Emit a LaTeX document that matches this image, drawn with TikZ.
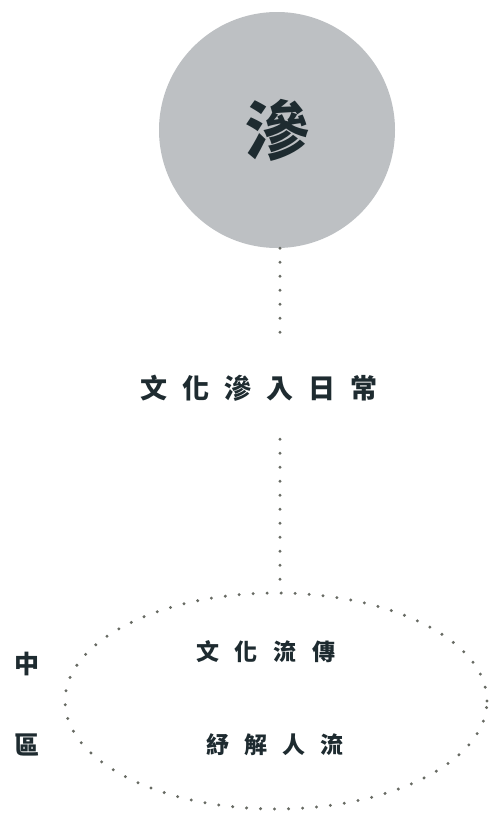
\documentclass[tikz,border=0pt]{standalone}
\usepackage{fontspec}
\usepackage{tikz}
\usetikzlibrary{shapes.geometric}
\newfontfamily\cjk{Noto Sans CJK TC}
\definecolor{ink}{HTML}{1E2B30}
\definecolor{disc}{HTML}{BDC0C3}
\definecolor{dotgray}{HTML}{676A63}
\makeatletter
\newcommand\spreadtext[2]{\def\sp@gap{}\@tfor\sp@c:=#2\do{\sp@gap\sp@c\def\sp@gap{\hspace{#1}}}}
\makeatother

\begin{document}
\begin{tikzpicture}[x=1pt, y=-1pt,
	dotline/.style={dotgray, line width=3.3pt, line cap=round, dash pattern=on 0pt off 14pt},
	label/.style={text=ink, font=\cjk\bfseries, inner sep=0pt}]
	\useasboundingbox (0, 0) rectangle (488, 814);
	%%
	\node[circle, fill=disc, minimum size=236pt, inner sep=0pt, label, font=\cjk\bfseries\fontsize{64}{64}\selectfont] (hub) at (277, 130) {滲};
	\node[label, font=\cjk\bfseries\fontsize{27}{27}\selectfont, minimum height=102pt] (daily) at (259, 388) {\spreadtext{15pt}{文化滲入日常}};
	\coordinate (axis) at (280, 388);
	%%
	\node[ellipse, draw=dotgray, line width=3.3pt, line cap=round, dash pattern=on 0pt off 14pt, minimum width=422pt, minimum height=216pt] (region) at (276, 701) {};
	\node[label, font=\cjk\bfseries\fontsize{23}{23}\selectfont] (spread) at (266, 652) {\spreadtext{16pt}{文化流傳}};
	\node[label, font=\cjk\bfseries\fontsize{23}{23}\selectfont] (relief) at (275, 745) {\spreadtext{15pt}{紓解人流}};
	\node[label, font=\cjk\bfseries\fontsize{25}{25}\selectfont] (zhong) at (27, 664) {中};
	\node[label, font=\cjk\bfseries\fontsize{25}{25}\selectfont] (qu) at (27, 745) {區};
	%%
	\draw[dotline] (hub.south -| axis) -- (daily.north -| axis);
	\draw[dotline, shorten >=8pt] (daily.south -| axis) -- (region.north -| axis);
\end{tikzpicture}
\end{document}
